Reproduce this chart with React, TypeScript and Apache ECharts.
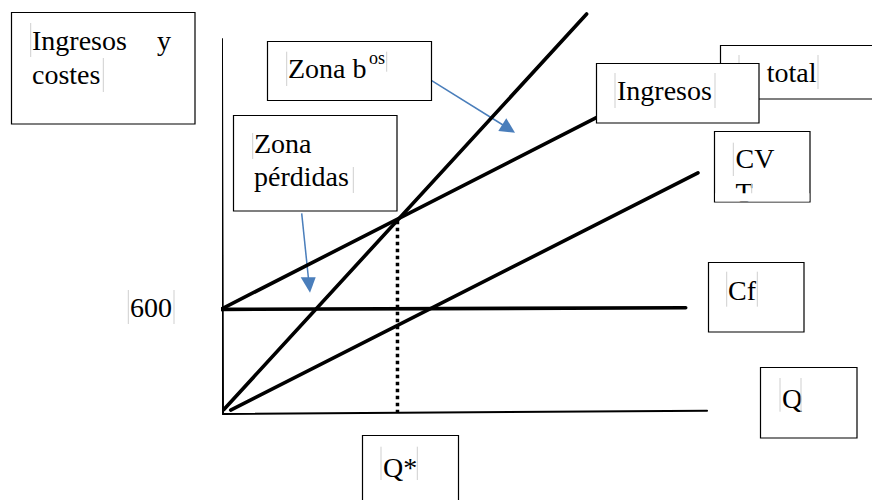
import React, { useEffect, useRef } from "react";
import * as echarts from "echarts";

// ---- Data (Q in units, V in monetary units; Cf = 600, Q* ≈ 100) ----
const ejeVertical: number[][] = [[-0.6, 2158], [0, -6]];
const ejeHorizontal: number[][] = [[0, -6], [276.6, 13]];
const costesFijos: number[][] = [[-1.3, 598], [264.4, 607]];
const ingresos: number[][] = [[0.5, 20], [207.8, 2302]];
const costeTotal: number[][] = [[-1.3, 598], [215, 1713]];
const costeVariable: number[][] = [[4.4, 17], [271.4, 1385]];
const qEquilibrio: number[][] = [[99.7, 1109], [99.7, 0]];

const X_MAX = 280;
const Y_MAX = 2320;

// ---- Labels ----
const etiquetaEje = ["Ingresos", "y", "costes"];
const etiquetaZonaB = ["Zona b", "os"];
const etiquetaZonaP = ["Zona", "pérdidas"];
const etiquetaCTotal = "C total";
const etiquetaIngresos = "Ingresos";
const etiquetaCV = ["CV", "T"];
const etiquetaCf = "Cf";
const etiquetaQ = "Q";
const etiquetaQStar = "Q*";
const etiquetaFijo = "600";

const FAMILY = "Liberation Serif";
const FS = 28;
const BLUE = "#4a7ebb";
const GRAY = "#cfcfcf";

function txt(text: string, x: number, baseline: number, z: number, size = FS) {
  return {
    type: "text",
    x,
    y: baseline - 0.8375 * size,
    z,
    style: {
      text,
      fill: "#000",
      font: `${size}px '${FAMILY}'`,
      fontSize: size,
      fontFamily: FAMILY,
    },
  };
}

function box(x: number, y: number, w: number, h: number, z: number) {
  return {
    type: "rect",
    z,
    shape: { x, y, width: w, height: h },
    style: { fill: "#fff", stroke: "#000", lineWidth: 1.2 },
  };
}

function bar(x: number, y1: number, y2: number, z: number) {
  return {
    type: "line",
    z,
    shape: { x1: x, y1, x2: x, y2 },
    style: { stroke: GRAY, lineWidth: 1 },
  };
}

function lineSeries(name: string, data: number[][], width: number, dashed = false) {
  return {
    name,
    type: "line",
    data,
    symbol: "none",
    clip: false,
    silent: true,
    lineStyle: {
      color: "#000",
      width,
      type: dashed ? [3.5, 3.5] : "solid",
      cap: dashed ? "butt" : "round",
    },
  };
}

export default function App() {
  const ref = useRef<HTMLDivElement>(null);

  useEffect(() => {
    if (!ref.current) return;
    const chart = echarts.init(ref.current, undefined, { renderer: "svg" });

    const graphic: any[] = [
      // arrows (under the lines)
      { type: "line", z: 1, shape: { x1: 431.7, y1: 80.7, x2: 503, y2: 125 }, style: { stroke: BLUE, lineWidth: 1.5 } },
      { type: "polygon", z: 1, shape: { points: [[515, 132.7], [498.3, 131.1], [506.3, 118.3]] }, style: { fill: BLUE } },
      { type: "line", z: 1, shape: { x1: 301.7, y1: 213.3, x2: 308.5, y2: 279 }, style: { stroke: BLUE, lineWidth: 1.5 } },
      { type: "polygon", z: 1, shape: { points: [[310, 292.7], [300.7, 277.3], [315.7, 277.3]] }, style: { fill: BLUE } },

      // Ingresos y costes
      box(11.5, 12.5, 183.5, 111.5, 10),
      txt(etiquetaEje[0], 32, 50, 11),
      txt(etiquetaEje[1], 157, 50, 11),
      txt(etiquetaEje[2], 32, 84, 11),
      bar(30.7, 23, 57, 11),
      bar(103.3, 58, 92, 11),

      // Zona b^os
      box(267.5, 41.5, 164, 59, 10),
      txt(etiquetaZonaB[0], 288, 78.3, 11),
      txt(etiquetaZonaB[1], 369, 64, 11, 18),
      bar(286.7, 51.7, 86, 11),
      bar(386.7, 51.7, 71.7, 11),

      // Zona pérdidas
      box(233.5, 115.5, 163.5, 95.5, 10),
      txt(etiquetaZonaP[0], 254, 153.3, 11),
      txt(etiquetaZonaP[1], 254, 186, 11),
      bar(252.7, 133, 159, 11),
      bar(353.3, 167, 193, 11),

      // C total (behind Ingresos)
      box(720.5, 45.5, 200, 53.5, 10),
      txt(etiquetaCTotal, 741, 81.7, 11),
      bar(739, 55, 89, 11),
      bar(818, 55, 89, 11),

      // Ingresos
      box(596.5, 63.5, 162.5, 59.5, 12),
      txt(etiquetaIngresos, 617, 100, 13),
      bar(615, 73, 108, 13),
      bar(715, 73, 108, 13),

      // CV T (second line clipped)
      box(714.5, 131.5, 95.5, 70.5, 10),
      txt(etiquetaCV[0], 735.5, 168.3, 11),
      txt(etiquetaCV[1], 735.5, 202.3, 11),
      bar(733.3, 142.7, 176, 11),
      bar(751.7, 183, 194, 11),
      { type: "rect", z: 12, shape: { x: 715.2, y: 193.3, width: 94.2, height: 8.1 }, style: { fill: "#fff" } },

      // Cf
      box(708.5, 262.5, 95.5, 69.5, 10),
      txt(etiquetaCf, 728, 300, 11),
      bar(726.7, 271.7, 306.7, 11),
      bar(757.3, 271.7, 306.7, 11),

      // Q
      box(760.5, 367.5, 96.5, 70.5, 10),
      txt(etiquetaQ, 782, 408, 11),
      bar(780, 378, 411.7, 11),
      bar(801, 378, 411.7, 11),

      // Q*
      box(362.5, 435.5, 96, 80, 10),
      txt(etiquetaQStar, 383, 477, 11),
      bar(381, 446.7, 480, 11),
      bar(417.3, 446.7, 480, 11),

      // 600
      txt(etiquetaFijo, 130, 316.7, 11),
      bar(128.3, 290, 324, 11),
      bar(174, 290, 324, 11),
    ];

    chart.setOption({
      animation: false,
      backgroundColor: "#fff",
      textStyle: { fontFamily: FAMILY },
      grid: { left: 223, right: 872 - 223 - 490, bottom: 87, top: 500 - 87 - Y_MAX * (104 / 600) },
      xAxis: { type: "value", min: 0, max: X_MAX, show: false },
      yAxis: { type: "value", min: 0, max: Y_MAX, show: false },
      series: [
        lineSeries("Eje vertical", ejeVertical, 2),
        lineSeries("Eje horizontal", ejeHorizontal, 2),
        lineSeries("Cf", costesFijos, 3.6),
        lineSeries("Ingresos", ingresos, 3.6),
        lineSeries("C total", costeTotal, 3.6),
        lineSeries("CVT", costeVariable, 3.6),
        lineSeries("Q*", qEquilibrio, 3.5, true),
      ],
      graphic,
    });

    return () => chart.dispose();
  }, []);

  return (
    <div
      ref={ref}
      style={{ position: "fixed", left: 0, top: 0, width: 872, height: 500, background: "#fff" }}
    />
  );
}
